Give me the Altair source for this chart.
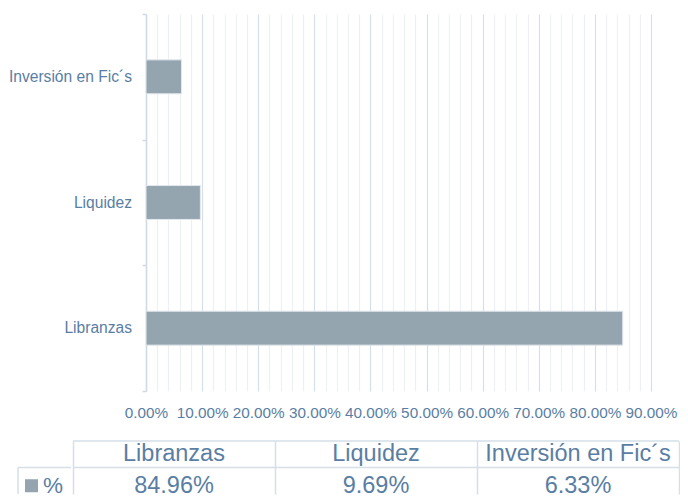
import altair as alt
import pandas as pd

# ---- data ----
categories = ["Libranzas", "Liquidez", "Inversión en Fic´s"]
values = [0.8496, 0.0969, 0.0633]
value_labels = ["84.96%", "9.69%", "6.33%"]
series_name = "%"
x_ticks = [i / 50 for i in range(46)]  # gridlines 0% .. 90% every 2%
rows = ["head", "val"]

TEXT = "#5a7ea3"
BAR = "#94a5b0"
LINE = "#d5dfe8"
FONT = "Liberation Sans"
MAJOR = "abs(datum.value * 10 - round(datum.value * 10)) < 1e-6"

bars_df = pd.DataFrame({"cat": categories, "value": values})
y_order = list(reversed(categories))
cat_scale = alt.Scale(type="band", domain=y_order, paddingInner=0, paddingOuter=0)

# category labels column (left of the plot)
labels_chart = alt.Chart(bars_df).mark_text(
    x="width", align="right", baseline="middle", fontSize=15.6, color=TEXT, font=FONT
).encode(
    y=alt.Y("cat:N", scale=cat_scale, axis=None),
    text="cat:N",
).properties(width=114, height=377)

bars = alt.Chart(bars_df).mark_bar(
    color=BAR, stroke="#e3e8ed", strokeWidth=1, height=alt.RelativeBandSize(0.27)
).encode(
    x=alt.X(
        "value:Q",
        scale=alt.Scale(domain=[0, 0.9], nice=False),
        axis=alt.Axis(
            values=x_ticks, grid=True, ticks=False, domain=False, title=None,
            labelExpr=f"{MAJOR} ? format(datum.value, '.2%') : ''",
            gridColor={"condition": {"test": MAJOR, "value": "#d6e0ea"}, "value": "#edf1f5"},
            gridWidth=1.2,
            labelFontSize=15.3, labelColor=TEXT, labelPadding=14, labelFont=FONT,
            labelFlush=False, labelOverlap=False,
        ),
    ),
    y=alt.Y(
        "cat:N", scale=cat_scale,
        axis=alt.Axis(
            title=None, tickBand="extent", ticks=True, tickSize=4, tickColor="#d0dae4",
            domainColor="#d0dae4", domainWidth=1.5, tickWidth=1.5, labels=False, grid=False,
        ),
    ),
).properties(width=505, height=377)

top = alt.hconcat(labels_chart, bars, spacing=-8)

# ---- data table ----
tab_head = pd.DataFrame({"cat": categories, "row": "head", "text": categories})
tab_val = pd.DataFrame({"cat": categories, "row": "val", "text": value_labels})
rule_df = pd.DataFrame({"row": rows})

xs = alt.Scale(type="band", domain=categories, paddingInner=0, paddingOuter=0)
ys = alt.Scale(type="band", domain=rows, paddingInner=0, paddingOuter=0)

tab_rules = alt.Chart(rule_df).mark_rule(color=LINE, strokeWidth=1.5).encode(
    y=alt.Y("row:N", bandPosition=0, scale=ys, axis=None)
)
tab_head_t = alt.Chart(tab_head).mark_text(
    fontSize=23.5, color=TEXT, font=FONT, baseline="middle"
).encode(
    x=alt.X("cat:N", sort=categories, scale=xs,
            axis=alt.Axis(title=None, labels=False, ticks=False, domain=False, grid=True,
                          tickBand="extent", gridColor=LINE, gridWidth=1.5)),
    y=alt.Y("row:N", scale=ys, axis=None),
    text="text:N",
)
tab_val_t = alt.Chart(tab_val).mark_text(
    fontSize=23.5, color=TEXT, font=FONT, baseline="middle", dy=5
).encode(
    x=alt.X("cat:N", sort=categories, scale=xs),
    y=alt.Y("row:N", scale=ys, axis=None),
    text="text:N",
)
table = alt.layer(tab_rules, tab_head_t, tab_val_t).properties(width=606, height=53)

leg_df = pd.DataFrame({"row": ["val"], "name": [series_name]})
leg_top = alt.Chart(leg_df).mark_rule(color=LINE, strokeWidth=1.5).encode(
    y=alt.Y("row:N", bandPosition=0, scale=ys, axis=None)
)
leg_left = alt.Chart(leg_df).mark_rule(color=LINE, strokeWidth=1.5).encode(
    x=alt.value(0), y=alt.Y("row:N", bandPosition=0, scale=ys), y2=alt.value(53)
)
leg_sq = alt.Chart(leg_df).mark_square(
    size=169, color=BAR, opacity=1, filled=True, xOffset=-13, yOffset=5
).encode(y=alt.Y("row:N", scale=ys))
leg_txt = alt.Chart(leg_df).mark_text(
    fontSize=22.5, color=TEXT, font=FONT, baseline="middle", dx=8.5, dy=5
).encode(y=alt.Y("row:N", scale=ys), text="name:N")
legend = alt.layer(leg_top, leg_left, leg_sq, leg_txt).properties(width=53, height=53)

bottom = alt.hconcat(legend, table, spacing=0)

chart = alt.vconcat(top, bottom, spacing=19).properties(
    padding={"left": 0, "top": 5, "right": 0, "bottom": 0}
).configure(font=FONT).configure_view(stroke=None)

chart.save("out.html", embed_options={"renderer": "svg", "actions": False})
